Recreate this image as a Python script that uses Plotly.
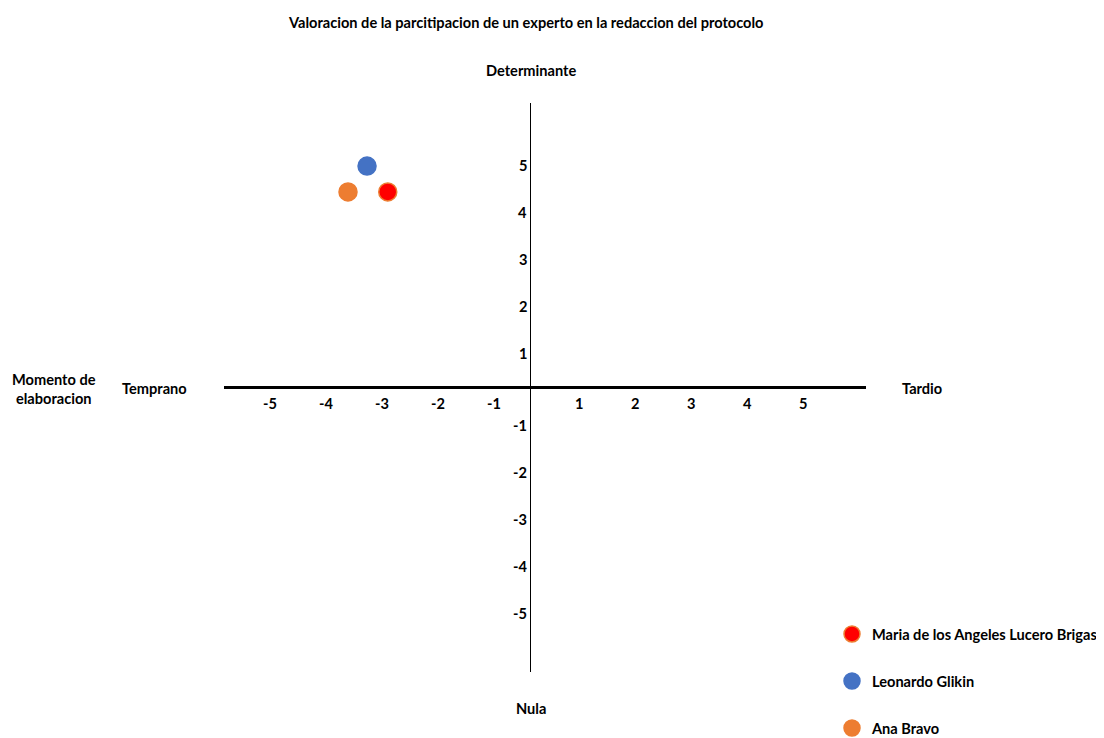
import plotly.graph_objects as go

# ---- data ----
names = ["Maria de los Angeles Lucero Brigas", "Leonardo Glikin", "Ana Bravo"]
x_vals = [-2.54, -2.91, -3.25]
y_vals = [4.15, 4.70, 4.15]
colors = ["#FF0000", "#4472C4", "#ED7D31"]
line_colors = ["#ED7D31", "#4472C4", "#ED7D31"]

x_ticks = [-5, -4, -3, -2, -1, 1, 2, 3, 4, 5]
y_ticks = [5, 4, 3, 2, 1, -1, -2, -3, -4, -5]

title_text = "Valoracion de la parcitipacion de un experto en la redaccion del protocolo"
top_label = "Determinante"
bottom_label = "Nula"
left_label = "Temprano"
right_label = "Tardio"
axis_name_lines = ["Momento de", "elaboracion"]

FONT = "Lato"
FS = 14.6
W, H = 1104, 738
OFF = 8  # page body margin
PL, PR, PT, PB = 224, 866, 103, 672  # plot area in page pixels

fig = go.Figure()
for i, n in enumerate(names):
    fig.add_trace(go.Scatter(
        x=[x_vals[i]], y=[y_vals[i]], mode="markers", name=n,
        legendgroup=n,
        marker=dict(size=18, color=colors[i], line=dict(color=line_colors[i], width=1.5)),
    ))

def paper(px, py):
    return (px - PL) / (PR - PL), (PB - py) / (PB - PT)

ann = []
def txt(px, py, t, **kw):
    x, y = paper(px, py)
    ann.append(dict(x=x, y=y, xref="paper", yref="paper", text=t, showarrow=False,
                    xanchor="center", yanchor="middle",
                    font=dict(family=FONT, size=FS, color="#000000"), **kw))

txt(525, 22, "<b>" + title_text + "</b>")
txt(531, 70, "<b>" + top_label + "</b>")
txt(531, 708, "<b>" + bottom_label + "</b>")
txt(154, 388, "<b>" + left_label + "</b>")
txt(922, 389, "<b>" + right_label + "</b>")
txt(54, 389, "<br>".join("<b>%s</b>" % s for s in axis_name_lines))

for k in x_ticks:
    ann.append(dict(x=k, y=0, xref="x", yref="y", text="<b>%d</b>" % k, showarrow=False,
                    yshift=-16, xshift=(20 if k < 0 else -7),
                    font=dict(family=FONT, size=FS, color="#000000")))
for k in y_ticks:
    ann.append(dict(x=0, y=k, xref="x", yref="y", text="<b>%d</b>" % k, showarrow=False,
                    xanchor="right", xshift=-1, yshift=(-13 if k > 0 else 9),
                    font=dict(family=FONT, size=FS, color="#000000")))

lx, ly = paper(832, 618)
fig.update_layout(
    width=W, height=H, autosize=False,
    paper_bgcolor="white", plot_bgcolor="white",
    margin=dict(l=PL - OFF, r=W - (PR - OFF), t=PT - OFF, b=H - (PB - OFF), autoexpand=False),
    xaxis=dict(range=[-306 / 56, 336 / 56], showgrid=False, showticklabels=False,
               ticks="", zeroline=True, zerolinecolor="#000000", zerolinewidth=1.3,
               showline=False),
    yaxis=dict(range=[-285 / 47, 284 / 47], showgrid=False, showticklabels=False,
               ticks="", zeroline=True, zerolinecolor="#000000", zerolinewidth=2.5,
               showline=False),
    annotations=ann,
    showlegend=True,
    legend=dict(x=lx, y=ly, xanchor="left", yanchor="top",
                font=dict(family=FONT, size=FS, color="#000000", weight="bold"),
                tracegroupgap=25, bgcolor="rgba(0,0,0,0)"),
)

fig.write_html("out.html")
